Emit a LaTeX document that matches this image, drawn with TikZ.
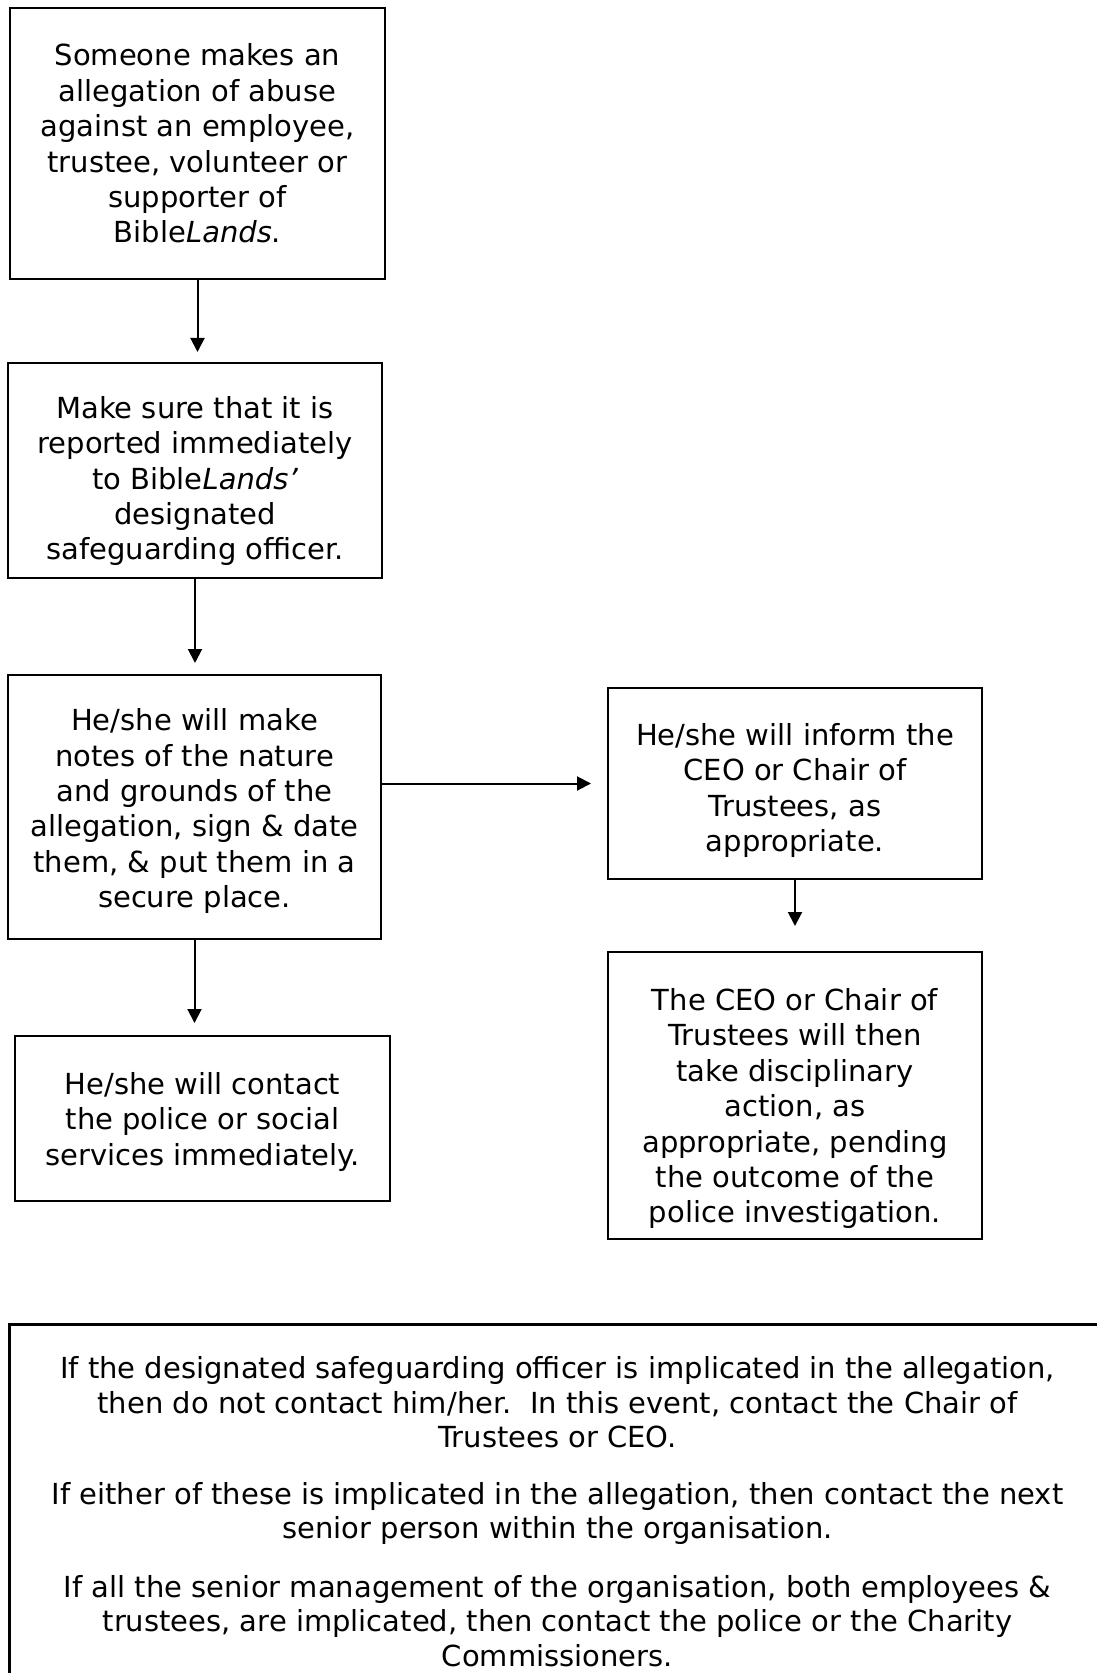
\documentclass[tikz,border=0pt]{standalone}
\usepackage{fontspec}
\setmainfont{DejaVu Sans}
\usetikzlibrary{arrows.meta}

\newcommand{\pushdown}[1]{\rule{0pt}{#1}}

\tikzset{
  flowbox/.style={draw, line width=1pt, align=center, inner sep=0pt,
    font=\fontsize{14.5pt}{17.7pt}\selectfont},
  flowarrow/.style={line width=1pt, -{Triangle[width=7pt,length=7pt]}},
}

\begin{document}
\begin{tikzpicture}[x=0.5pt,y=-0.5pt]
  \useasboundingbox (0,0) rectangle (1096,1673);
  % left column
  \node[flowbox, minimum width=187.5pt, minimum height=135.5pt] (alleg) at (197.5,143.5)
    {Someone makes an\\allegation of abuse\\against an employee,\\trustee, volunteer or\\supporter of\\Bible\textit{Lands}.};
  \node[flowbox, minimum width=187pt, minimum height=107.5pt] (report) at (195,470.5)
    {\pushdown{21.7pt}Make sure that it is\\reported immediately\\to Bible\textit{Lands'}\\designated\\safeguarding officer.};
  \node[flowbox, minimum width=186.5pt, minimum height=132pt] (notes) at (194.5,807)
    {\pushdown{15.3pt}He/she will make\\notes of the nature\\and grounds of the\\allegation, sign \& date\\them, \& put them in a\\secure place.};
  \node[flowbox, minimum width=187.5pt, minimum height=82.5pt] (police) at (202.5,1118.5)
    {\pushdown{14.2pt}He/she will contact\\the police or social\\services immediately.};
  % right column
  \node[flowbox, minimum width=187pt, minimum height=95.5pt] (inform) at (795,783.5)
    {\pushdown{18pt}He/she will inform the\\CEO or Chair of\\Trustees, as\\appropriate.};
  \node[flowbox, minimum width=187pt, minimum height=143.5pt] (action) at (795,1095.5)
    {\pushdown{24.3pt}The CEO or Chair of\\Trustees will then\\take disciplinary\\action, as\\appropriate, pending\\the outcome of the\\police investigation.};
  % note at the foot
  \node[flowbox, line width=1.5pt, anchor=north west, minimum width=548pt, inner ysep=16pt,
    font=\fontsize{14.5pt}{17.25pt}\selectfont] (note) at (8,1323)
    {If the designated safeguarding officer is implicated in the allegation,\\
     then do not contact him/her.\ \ In this event, contact the Chair of\\
     Trustees or CEO.\\[11pt]
     If either of these is implicated in the allegation, then contact the next\\
     senior person within the organisation.\\[12pt]
     If all the senior management of the organisation, both employees \&\\
     trustees, are implicated, then contact the police or the Charity\\
     Commissioners.};
  % arrows
  \draw[flowarrow, shorten >=5pt] (alleg.south) -- (alleg.south |- report.north);
  \draw[flowarrow, shorten >=5.5pt] (report.south) -- (report.south |- notes.north);
  \draw[flowarrow, shorten >=6pt] (notes.south) -- (notes.south |- police.north);
  \draw[flowarrow, shorten >=8pt] (notes.east |- inform.west) -- (inform.west);
  \draw[flowarrow, shorten >=12.5pt] (inform.south) -- (action.north);
\end{tikzpicture}
\end{document}
